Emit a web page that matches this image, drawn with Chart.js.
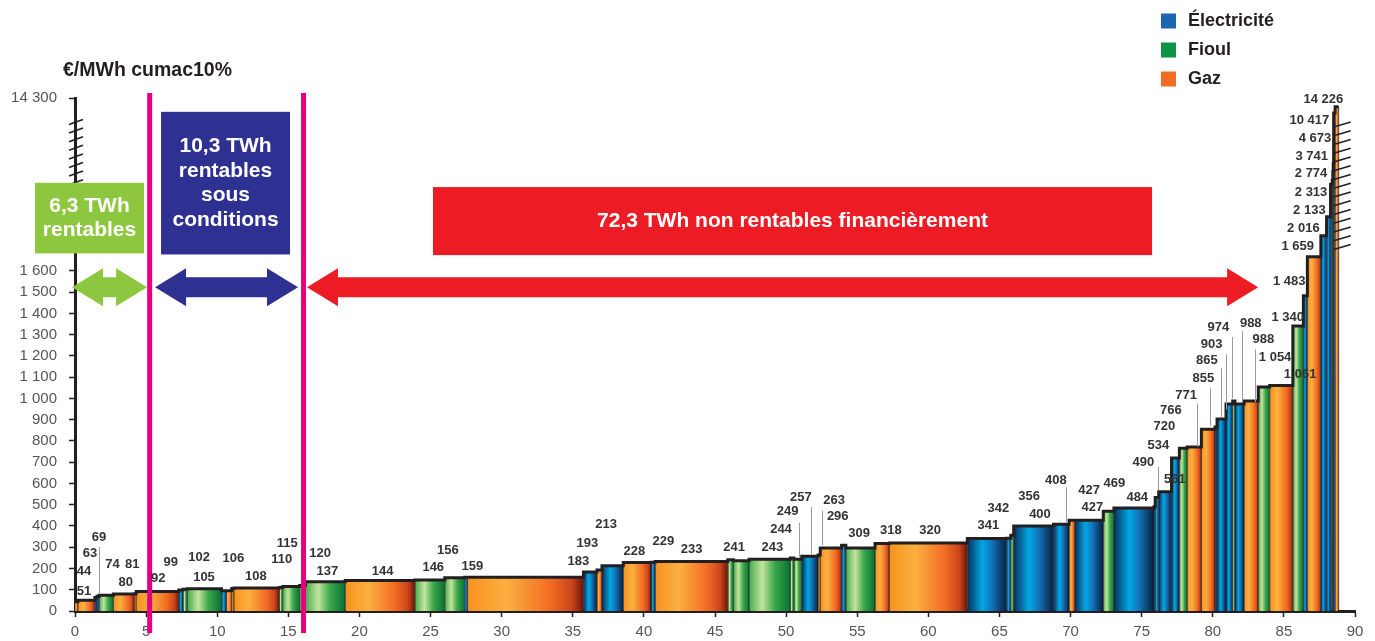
<!DOCTYPE html>
<html lang="fr">
<head>
<meta charset="utf-8">
<title>Coût des économies d'énergie par action</title>
<script src="https://cdn.jsdelivr.net/npm/chart.js@4.4.1/dist/chart.umd.min.js"></script>
<style>
  html, body { margin: 0; padding: 0; background: #fff; }
  canvas { display: block; }
</style>
</head>
<body>
<canvas id="curve" width="1375" height="641"></canvas>
<script>
// Actions classées par coût croissant : énergie, gisement (TWh cumac) et coût (€/MWh cumac)
const energy = ['gaz','gaz','elec','elec','fioul','gaz','gaz','gaz','elec','fioul',
  'fioul','elec','gaz','gaz','gaz','fioul','fioul','fioul','fioul','gaz',
  'fioul','fioul','elec','gaz','elec','gaz','elec','gaz','elec','gaz',
  'fioul','fioul','fioul','fioul','fioul','elec','gaz','gaz','elec','fioul',
  'gaz','gaz','elec','elec','fioul','elec','elec','gaz','elec','fioul',
  'elec','elec','elec','elec','elec','fioul','gaz','gaz','elec','elec',
  'elec','fioul','elec','gaz','fioul','gaz','fioul','elec','gaz','elec',
  'elec','elec','elec','elec','elec','elec','gaz'];

const twh = [0.2, 1.2, 0.15, 0.15, 1.0, 1.47, 0.13, 3.0, 0.3, 0.3,
  2.4, 0.35, 0.37, 0.15, 3.2, 0.23, 1.2, 0.4, 2.8, 4.9,
  2.1, 1.4, 0.2, 8.15, 0.95, 0.35, 1.5, 1.95, 0.3, 5.1,
  0.4, 1.1, 2.9, 0.25, 0.55, 1.15, 0.15, 1.5, 0.3, 2.05,
  1.01, 5.48, 2.76, 0.3, 0.2, 2.8, 1.1, 0.4, 2.0, 0.75,
  2.82, 0.08, 0.25, 0.9, 0.55, 0.55, 1.0, 0.96, 0.14, 0.63,
  0.47, 0.16, 0.64, 1.0, 0.8, 1.63, 0.74, 0.28, 0.95, 0.4,
  0.28, 0.12, 0.04, 0.03, 0.03, 0.1, 0.25];

const cost = [44, 51, 63, 69, 74, 80, 81, 92, 99, 102,
  105, 95, 95, 106, 108, 110, 115, 120, 137, 144,
  146, 156, 159, 159, 183, 193, 213, 228, 229, 233,
  241, 236, 243, 249, 244, 257, 263, 296, 309, 296,
  318, 320, 341, 342, 356, 400, 408, 427, 427, 469,
  484, 490, 534, 561, 720, 766, 771, 855, 865, 903,
  974, 988, 974, 988, 1054, 1061, 1340, 1483, 1659, 2016,
  2133, 2313, 2774, 3741, 4673, 10417, 14226];

const yTicks = [0, 100, 200, 300, 400, 500, 600, 700, 800, 900, 1000,
  1100, 1200, 1300, 1400, 1500, 1600, 14300];

const energyNames = { elec: 'Électricité', fioul: 'Fioul', gaz: 'Gaz' };

// étiquettes de coût : [action, abscisse TWh, hauteur sur l'axe]
const labelSpots = [[0,0.63,188],[1,0.63,94],[2,1.05,270],[3,1.69,345],[4,2.63,218],[5,3.56,136],
  [6,4.03,218],[7,5.86,152],[8,6.73,228],[9,8.72,251],[10,9.07,157],[13,11.13,247],[14,12.71,163],
  [15,14.53,242],[16,14.93,320],[17,17.23,273],[18,17.74,188],[19,21.63,188],[20,25.19,204],
  [21,26.21,286],[23,27.94,210],[24,35.39,231],[25,36.02,320],[26,37.34,407],[27,39.33,282],
  [28,41.37,325],[29,43.36,290],[30,46.34,298],[32,49.03,298],[34,49.64,383],[33,50.11,469],
  [35,51.03,536],[36,53.37,521],[37,53.63,446],[38,55.13,364],[40,57.36,380],[41,60.12,380],
  [42,64.22,403],[43,64.93,482],[44,67.08,540],[45,67.85,454],[46,68.97,615],[47,71.30,565],
  [48,71.53,485],[49,73.08,600],[50,74.69,536],[51,75.12,701],[52,76.17,780],[53,77.34,618],
  [54,76.6,869],[55,77.05,944],[56,78.13,1015],[57,79.34,1094],[58,79.58,1180],[59,79.92,1255],
  [60,80.39,1332],[61,82.67,1355],[63,83.56,1277],[64,84.38,1195],[65,86.14,1112],[66,85.27,1383],
  [67,85.38,1548],[68,85.97,1713],[69,86.37,1800],[70,86.79,1886],[71,86.91,1969],[72,86.91,2058],
  [73,86.96,2140],[74,87.19,2223],[75,86.79,2309],[76,87.78,2408]];

// traits de rappel : [abscisse, haut, bas]
const leaders = [[1.71,301,83],[50.93,414,254],[51.76,489,267],[52.51,472,309],[69.65,582,419],
  [76.13,678,568],[78.87,976,772],[79.8,1047,871],[80.56,1141,913],[80.9,1208,948],
  [81.33,1289,1000],[82.08,1316,983],[82.97,1230,983]];

const FONT = '"Liberation Sans", Arial, Helvetica, sans-serif';
const INK = '#231f20';

// coupure de l'axe vertical au-dessus de 1 600 €
const yBreak = [[0, 0], [1600, 1600], [1659, 1666], [2016, 1765], [2133, 1854],
  [2313, 2007], [10417, 2342], [14226, 2372], [14300, 2413]];

function squash(v) {
  if (v <= 0) return v;
  for (let k = 1; k < yBreak.length; k++) {
    const [a, la] = yBreak[k - 1];
    const [b, lb] = yBreak[k];
    if (v <= b) return la + (v - a) * (lb - la) / (b - a);
  }
  return yBreak[yBreak.length - 1][1];
}

class BrokenScale extends Chart.LinearScale {
  static id = 'broken';
  static defaults = Chart.LinearScale.defaults;
  configure() {
    super.configure();
    this._startValue = squash(this.min);
    this._endValue = squash(this.max);
    this._valueRange = this._endValue - this._startValue;
  }
  getPixelForValue(value) {
    return value === null ? NaN : this.getPixelForLevel(squash(value));
  }
  getPixelForLevel(level) {
    return this.getPixelForDecimal((level - this._startValue) / this._valueRange);
  }
}
Chart.register(BrokenScale);

const fmt = v => String(v).replace(/\B(?=(\d{3})+(?!\d))/g, ' ');

const starts = [];
let total = 0;
twh.forEach(w => { starts.push(total); total += w; });

// dégradés "cylindre" de chaque énergie
const ramps = {
  gaz: [[0, '#f6921e'], [0.33, '#fbb040'], [0.72, '#f26b23'], [0.9, '#c9441b'], [1, '#6d1509']],
  fioul: [[0, '#44ad4a'], [0.32, '#c6e3a0'], [0.62, '#3aa94a'], [1, '#0a6e36']],
  elec: [[0, '#0b2f5c'], [0.38, '#00a8e1'], [0.62, '#1374bb'], [1, '#08203f']]
};
const swatch = { elec: '#1b66b0', fioul: '#0e9347', gaz: '#f26d24' };

function shade(chart, i) {
  const { ctx, chartArea, scales } = chart;
  const stops = ramps[energy[i]];
  if (!chartArea || !scales.x) return stops[1][1];
  const a = scales.x.getPixelForValue(starts[i]);
  const b = scales.x.getPixelForValue(starts[i] + twh[i]);
  const g = ctx.createLinearGradient(a, 0, Math.max(b, a + 1), 0);
  stops.forEach(([p, c]) => g.addColorStop(p, c));
  return g;
}

const barSets = cost.map((v, i) => ({
  data: [
    { x: starts[i], y: 0 }, { x: starts[i], y: v },
    { x: starts[i] + twh[i], y: v }, { x: starts[i] + twh[i], y: 0 }
  ],
  fill: 'origin',
  backgroundColor: ctx => shade(ctx.chart, i),
  borderColor: 'rgba(35,31,32,0.45)',
  borderWidth: 0.7,
  pointRadius: 0,
  order: 1
}));

// contour en escalier au sommet des barres
const outline = {
  data: cost.map((v, i) => ({ x: starts[i], y: v })).concat([{ x: total, y: cost[cost.length - 1] }]),
  stepped: 'before',
  fill: false,
  borderColor: INK,
  borderWidth: 3,
  pointRadius: 0,
  order: 0
};

function hatch(ctx, xa, xb, yLow, yHigh, n) {
  for (let k = 0; k < n; k++) {
    const yy = yLow + (yHigh - yLow) * k / (n - 1);
    ctx.beginPath();
    ctx.moveTo(xa, yy + 2.5);
    ctx.lineTo(xb, yy - 2.5);
    ctx.stroke();
  }
}

function arrow(ctx, xa, xb, yc, color) {
  const hl = 31, hh = 19, bh = 10;
  ctx.fillStyle = color;
  ctx.beginPath();
  ctx.moveTo(xa, yc);
  ctx.lineTo(xa + hl, yc - hh);
  ctx.lineTo(xa + hl, yc - bh);
  ctx.lineTo(xb - hl, yc - bh);
  ctx.lineTo(xb - hl, yc - hh);
  ctx.lineTo(xb, yc);
  ctx.lineTo(xb - hl, yc + hh);
  ctx.lineTo(xb - hl, yc + bh);
  ctx.lineTo(xa + hl, yc + bh);
  ctx.lineTo(xa + hl, yc + hh);
  ctx.closePath();
  ctx.fill();
}

function box(ctx, x0, x1, yTop, yBottom, color, lines) {
  ctx.fillStyle = color;
  ctx.fillRect(x0, yTop, x1 - x0, yBottom - yTop);
  ctx.fillStyle = '#fff';
  ctx.font = `bold 21px ${FONT}`;
  ctx.textAlign = 'center';
  ctx.textBaseline = 'middle';
  const cx = (x0 + x1) / 2, cy = (yTop + yBottom) / 2, lh = 24.5;
  lines.forEach((t, k) => ctx.fillText(t, cx, cy + (k - (lines.length - 1) / 2) * lh));
}

const decor = {
  id: 'decor',
  afterDraw(chart) {
    const { ctx, chartArea: area, scales: { x, y } } = chart;
    const X = v => x.getPixelForValue(v);
    const L = u => y.getPixelForLevel(u);
    ctx.save();

    // hachures de coupure
    ctx.strokeStyle = INK;
    ctx.lineWidth = 1.6;
    hatch(ctx, X(0) - 6, X(0) + 8, L(2017), L(2300), 8);
    hatch(ctx, X(88.5), X(89.7), L(1712), L(2288), 15);

    // zones de rentabilité
    box(ctx, X(-2.81), X(4.85), L(2014), L(1682), '#8dc63f', ['6,3 TWh', 'rentables']);
    box(ctx, X(6.05), X(15.12), L(2348), L(1677), '#2e3192', ['10,3 TWh', 'rentables', 'sous', 'conditions']);
    box(ctx, X(25.17), X(75.73), L(1994), L(1674), '#ed1c24', ['72,3 TWh non rentables financièrement']);

    arrow(ctx, X(-0.21), X(5.07), L(1523), '#8dc63f');
    arrow(ctx, X(5.63), X(15.68), L(1523), '#2e3192');
    arrow(ctx, X(16.31), X(83.19), L(1523), '#ed1c24');

    // seuils
    ctx.fillStyle = '#e5007e';
    [5.25, 16.07].forEach(v => ctx.fillRect(X(v) - 2.5, area.top - 5, 5, area.bottom - area.top + 27));

    // traits de rappel et valeurs
    ctx.strokeStyle = '#9a9a9a';
    ctx.lineWidth = 1;
    leaders.forEach(([lx, top, bottom]) => {
      ctx.beginPath();
      ctx.moveTo(Math.round(X(lx)) + 0.5, L(top));
      ctx.lineTo(Math.round(X(lx)) + 0.5, L(bottom));
      ctx.stroke();
    });
    ctx.fillStyle = '#333';
    ctx.font = `bold 13px ${FONT}`;
    ctx.textAlign = 'center';
    ctx.textBaseline = 'middle';
    labelSpots.forEach(([i, lx, ly]) => ctx.fillText(fmt(cost[i]), X(lx), L(ly)));

    // titre d'axe
    ctx.fillStyle = INK;
    ctx.font = `bold 19.5px ${FONT}`;
    ctx.textAlign = 'left';
    ctx.fillText('€/MWh cumac10%', area.left - 12, area.top - 27);

    // légende
    ctx.font = `bold 18px ${FONT}`;
    ['elec', 'fioul', 'gaz'].forEach((k, n) => {
      const cy = 21 + n * 29;
      ctx.fillStyle = swatch[k];
      ctx.fillRect(1161, cy - 7.5, 15, 15);
      ctx.fillStyle = INK;
      ctx.fillText(energyNames[k], 1188, cy);
    });
    ctx.restore();
  }
};

Chart.defaults.font.family = FONT;

new Chart(document.getElementById('curve'), {
  type: 'line',
  data: { datasets: [...barSets, outline] },
  options: {
    responsive: false,
    animation: false,
    events: [],
    layout: { padding: { top: 98, right: 20, left: 0, bottom: 0 } },
    plugins: { legend: { display: false }, tooltip: { enabled: false } },
    elements: { line: { tension: 0 }, point: { radius: 0 } },
    scales: {
      x: {
        type: 'linear',
        min: 0,
        max: 90,
        ticks: { stepSize: 5, padding: 6, color: '#555', font: { size: 15 }, callback: v => v },
        grid: { drawOnChartArea: false, drawTicks: true, tickLength: 6, tickColor: INK, tickWidth: 1.5 },
        border: { color: INK, width: 3 },
        afterFit: s => { s.height = 30; }
      },
      y: {
        type: 'broken',
        min: 0,
        max: 14300,
        afterBuildTicks: s => { s.ticks = yTicks.map(v => ({ value: v })); },
        ticks: { padding: 12, color: '#555', font: { size: 15 }, callback: v => fmt(v) },
        grid: { drawOnChartArea: false, drawTicks: true, tickLength: 6, tickColor: INK, tickWidth: 1.5 },
        border: { color: INK, width: 3 },
        afterFit: s => { s.width = 75; }
      }
    }
  },
  plugins: [decor]
});
</script>
</body>
</html>
